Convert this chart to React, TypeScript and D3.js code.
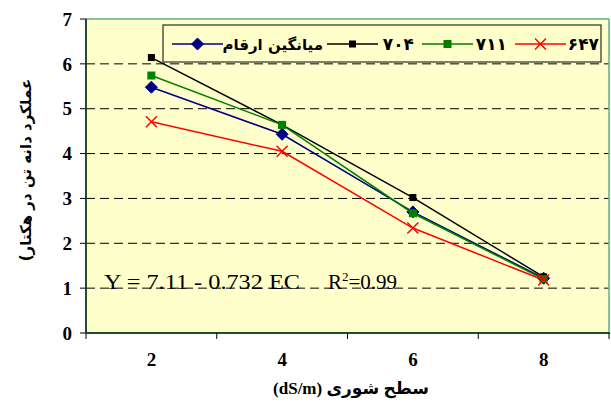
import React from "react";
import * as d3 from "d3";

const categories = ["2", "4", "6", "8"];
const meanValues = [5.48, 4.43, 2.7, 1.22];
const v704 = [6.14, 4.64, 3.02, 1.25];
const v711 = [5.74, 4.64, 2.67, 1.2];
const v647 = [4.71, 4.05, 2.34, 1.18];
const yTicks = [0, 1, 2, 3, 4, 5, 6, 7];
const gridTicks = [1, 2, 3, 4, 5, 6];
const legendLabels = ["میانگین ارقام", "۷۰۴", "۷۱۱", "۶۴۷"];
const yTitle = "عملکرد دانه تن در هکتار)";
const xTitle = "سطح شوری (dS/m)";
const equation = "Y = 7.11 - 0.732 EC";

const W = 611, H = 403;
const L = 86, R = 609, T = 19, B = 333;

function Marker({ type, x, y, color }: { type: string; x: number; y: number; color: string }) {
  if (type === "diamond")
    return <path d={`M${x},${y - 6}L${x + 6},${y}L${x},${y + 6}L${x - 6},${y}Z`} fill={color} stroke={color} />;
  if (type === "square")
    return <rect x={x - 3} y={y - 3} width={6} height={6} fill={color} stroke={color} />;
  if (type === "square2")
    return <rect x={x - 3.5} y={y - 3.5} width={7} height={7} fill={color} stroke={color} />;
  return (
    <path d={`M${x - 5.5},${y - 5.5}L${x + 5.5},${y + 5.5}M${x - 5.5},${y + 5.5}L${x + 5.5},${y - 5.5}`} stroke={color} strokeWidth={1.5} fill="none" />
  );
}

export default function App() {
  const x = d3.scaleBand<string>().domain(categories).range([L, R]).padding(0);
  const y = d3.scaleLinear().domain([0, 7]).range([B, T]);
  const cx = (c: string) => (x(c) as number) + x.bandwidth() / 2;
  const series = [
    { name: legendLabels[0], values: meanValues, color: "#000080", marker: "diamond" },
    { name: legendLabels[1], values: v704, color: "#000000", marker: "square" },
    { name: legendLabels[2], values: v711, color: "#008000", marker: "square2" },
    { name: legendLabels[3], values: v647, color: "#FF0000", marker: "x" },
  ];
  const line = d3.line<[number, number]>().x((d) => d[0]).y((d) => d[1]);
  const serif = "'Liberation Serif', 'Times New Roman', serif";
  const fa = "'DejaVu Sans', sans-serif";
  const legendItems = [
    { lx: 172, tx: 323, fs: 15 },
    { lx: 327, tx: 414, fs: 17 },
    { lx: 422, tx: 507, fs: 17 },
    { lx: 515, tx: 599, fs: 17 },
  ];
  const edges = [...categories.map((c) => x(c) as number), R];
  return (
    <svg width={W} height={H} style={{ position: "absolute", left: 0, top: 0 }}>
      <rect x={0} y={0} width={W} height={H} fill="#fff" />
      <rect x={L} y={T} width={R - L} height={B - T} fill="#FFFFCC" />
      {gridTicks.map((t) => (
        <line key={t} x1={L} x2={R} y1={y(t)} y2={y(t)} stroke="#000" strokeWidth={1} strokeDasharray="9,5" />
      ))}
      {/* borders */}
      <line x1={L} x2={R} y1={T} y2={T} stroke="#5fb07c" strokeWidth={1.5} />
      <line x1={R} x2={R} y1={T} y2={B} stroke="#5fb07c" strokeWidth={1.5} />
      <line x1={L} x2={L} y1={T} y2={B} stroke="#1f4f2f" strokeWidth={2} />
      <line x1={L} x2={R + 1} y1={B} y2={B} stroke="#1f4f2f" strokeWidth={2} />
      {/* y ticks */}
      {yTicks.map((t) => (
        <g key={t}>
          <line x1={80} x2={L} y1={y(t)} y2={y(t)} stroke="#000" />
          <text x={72} y={y(t)} dy="0.35em" textAnchor="end" fontFamily={serif} fontWeight="bold" fontSize={19}>
            {t}
          </text>
        </g>
      ))}
      {edges.map((e, i) => (
        <line key={i} x1={e} x2={e} y1={B} y2={B + 6} stroke="#000" />
      ))}
      {categories.map((c) => (
        <text key={c} x={cx(c)} y={366} textAnchor="middle" fontFamily={serif} fontWeight="bold" fontSize={19}>
          {c}
        </text>
      ))}
      {/* series */}
      {series.map((s) => (
        <g key={s.name}>
          <path
            d={line(categories.map((c, i) => [cx(c), y(s.values[i])]) as [number, number][]) || ""}
            fill="none"
            stroke={s.color}
            strokeWidth={1.5}
          />
          {categories.map((c, i) => (
            <Marker key={c} type={s.marker} x={cx(c)} y={y(s.values[i])} color={s.color} />
          ))}
        </g>
      ))}
      {/* equation */}
      <text x={104} y={289} fontFamily={serif} fontSize={21} textLength={196} lengthAdjust="spacingAndGlyphs">
        {equation}
      </text>
      <text x={328} y={289} fontFamily={serif} fontSize={21}>
        R<tspan dy={-8} fontSize={13}>2</tspan>
        <tspan dy={8}>=0.99</tspan>
      </text>
      {/* legend */}
      <rect x={163} y={25} width={438} height={37} fill="#FFFFCC" stroke="#000" strokeWidth={1} />
      {series.map((s, i) => {
        const it = legendItems[i];
        return (
          <g key={s.name}>
            <line x1={it.lx} x2={it.lx + 51} y1={44} y2={44} stroke={s.color} strokeWidth={1.5} />
            <Marker type={s.marker} x={it.lx + 25.5} y={44} color={s.color} />
            <text x={it.tx} y={50} textAnchor="start" fontFamily={fa} fontWeight="bold" fontSize={it.fs} direction="rtl">
              {s.name}
            </text>
          </g>
        );
      })}
      {/* axis titles */}
      <text
        transform={`translate(26,170) rotate(-90)`}
        textAnchor="middle"
        fontFamily={fa}
        fontWeight="bold"
        fontSize={15}
        direction="rtl"
        dy="0.35em"
      >
        {yTitle}
      </text>
      <text x={351} y={394} textAnchor="middle" fontFamily={`${serif}, ${fa}`} fontWeight="bold" fontSize={17} direction="rtl">
        {xTitle}
      </text>
    </svg>
  );
}
